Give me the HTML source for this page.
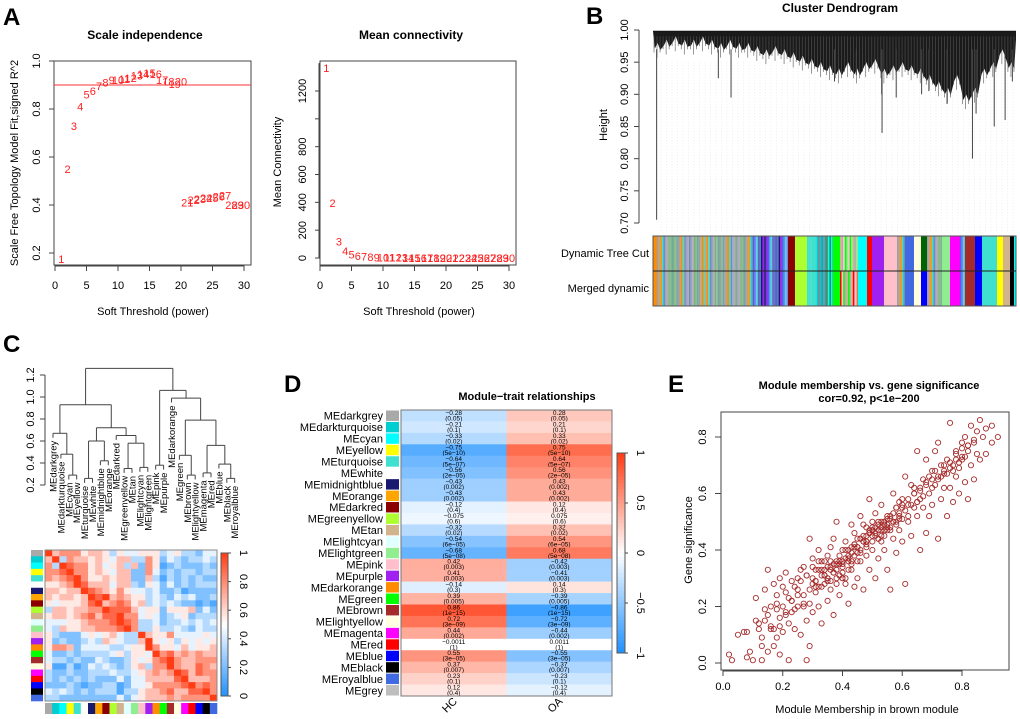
<!DOCTYPE html>
<html><head><meta charset="utf-8"><style>
html,body{margin:0;padding:0;background:#fff;}
svg{display:block;font-family:"Liberation Sans",Arial,sans-serif;}
</style></head><body>
<svg id="fig" width="1020" height="719" viewBox="0 0 1020 719"></svg>
<script>
// ---------- Panel A data ----------
const powers = [1,2,3,4,5,6,7,8,9,10,11,12,13,14,15,16,17,18,19,20,21,22,23,24,25,26,27,28,29,30];
const sftR2 = [0.175,0.55,0.73,0.81,0.86,0.875,0.895,0.91,0.92,0.92,0.925,0.93,0.94,0.945,0.95,0.945,0.92,0.915,0.905,0.915,0.41,0.42,0.425,0.43,0.43,0.435,0.44,0.40,0.40,0.40];
const meanK = [1365,395,120,50,25,15,10,7,5,4,3,2,2,1,1,1,1,0,0,0,0,0,0,0,0,0,0,0,0,0];
const r2Ticks = [0.2,0.4,0.6,0.8,1.0];
const kTicks = [0,200,400,600,800,1000,1200];
const kTickLabels = ["0","200","400","600","800","","1200"];
const powerTicks = [0,5,10,15,20,25,30];
const r2Cut = 0.9;
// ---------- Panel B data ----------
const dendroBand = [0.965,0.97,0.975,0.97,0.97,0.975,0.97,0.965,0.97,0.965,0.965,0.96,0.955,0.96,0.955,0.95,0.945,0.94,0.935,0.93,0.925,0.935,0.925,0.935,0.94,0.925,0.93,0.935,0.93,0.925,0.915,0.905,0.895,0.915,0.885,0.895,0.925,0.935,0.955,0.935];
const spikeX = [0.01,0.18,0.215,0.50,0.63,0.631,0.67,0.81,0.88,0.89,0.94,0.97,0.99,0.74,0.76,0.56];
const spikeH = [0.705,0.925,0.895,0.92,0.90,0.84,0.895,0.885,0.80,0.87,0.85,0.86,0.92,0.90,0.905,0.93];
const heightTicks = [0.70,0.75,0.80,0.85,0.90,0.95,1.00];
const colorBlocks = [
 [653,657,"#FF8C00","#FF8C00"],[657,753,"mix1","mix1"],[753,788,"mix2","mix2"],[788,795,"#8B0000","#8B0000"],
 [795,807,"#ADFF2F","#ADFF2F"],[807,833,"mix3","mix3"],[833,840,"#00FF00","#00FF00"],[840,858,"mix4","mix5"],
 [858,867,"#00FFFF","#00FFFF"],[867,872,"#FF0000","#FF0000"],[872,884,"#A020F0","#A020F0"],[884,897,"#FFC0CB","#FFC0CB"],
 [897,905,"mix1","mix1"],[905,914,"#4169E1","#4169E1"],[914,921,"#FFFFE0","#FFFFE0"],[921,927,"#006400","#0000FF"],
 [927,942,"mix1","mix1"],[942,950,"#90EE90","#90EE90"],[950,960,"#FF00FF","#FF00FF"],[960,965,"mix2","mix2"],
 [965,975,"#A52A2A","#A52A2A"],[975,982,"#0000FF","#0000FF"],[982,997,"#40E0D0","#40E0D0"],[997,1003,"#FFFF00","#FFFF00"],
 [1003,1010,"#D2B48C","#D2B48C"],[1010,1014,"#000000","#000000"],[1014,1016,"#00FFFF","#00FFFF"]];
const mixPalettes = {
 mix1:["#9AA0A6","#7CB37C","#6E8FB8","#C8A07A","#8FBF8F","#A0A0D0","#FF8C00","#6FA8A8","#B0B0B0","#40E0D0"],
 mix2:["#4169E1","#191970","#6060C0","#8080FF","#A020F0","#5A7AD0","#40E0D0"],
 mix3:["#40E0D0","#00CED1","#2E8B57","#40E0D0","#708090","#00FFFF"],
 mix4:["#D2B48C","#FFC0CB","#90EE90","#B0B0B0","#00FF00"],
 mix5:["#FF0000","#00FF00","#D2B48C","#FFC0CB","#B0B0B0"]};
// ---------- Panel C data ----------
const meNames = ["MEdarkgrey","MEdarkturquoise","MEcyan","MEyellow","MEturquoise","MEwhite","MEmidnightblue","MEorange","MEdarkred","MEgreenyellow","MEtan","MElightcyan","MElightgreen","MEpink","MEpurple","MEdarkorange","MEgreen","MEbrown","MElightyellow","MEmagenta","MEred","MEblue","MEblack","MEroyalblue"];
const meColors = ["#A9A9A9","#00CED1","#00FFFF","#FFFF00","#40E0D0","#FFFFFF","#191970","#FFA500","#8B0000","#ADFF2F","#D2B48C","#E0FFFF","#90EE90","#FFC0CB","#A020F0","#FF8C00","#00FF00","#A52A2A","#FFFFE0","#FF00FF","#FF0000","#0000FF","#000000","#4169E1"];
const mergeA = [2,1,0,4,6,103,9,11,106,8,105,102,13,17,16,19,22,21,115,114,15,112,111];
const mergeB = [3,100,101,5,7,104,10,12,107,108,109,110,14,18,113,20,23,116,117,118,119,120,121];
const mergeH = [0.29,0.48,0.67,0.26,0.42,0.60,0.35,0.36,0.58,0.65,0.72,0.93,0.38,0.29,0.47,0.31,0.26,0.39,0.56,0.79,0.99,1.06,1.26];
const eigenCorr = [
"967775665354455534533244","693766565466337524323343","739877564563627512322232","778977565466227423233233",
"767897556566226313232322","556798666466325424232333","665669876575443422312222","656656989676553432434223",
"545556896787563434322121","366566779888645525556242","566567868897745423452333","444556777898733423343434",
"436556677789733533432433","532224545643396557444454","523223436543369545354545","577624444334559755464556",
"422323333453554978676766","433232243223545789766777","511312434323563779766876","322322333433456767986877",
"323232322242446666896667","222321223312445777789787","434323233313356678668897","332222222242456667677779"];
const dendTicks = [0.2,0.4,0.6,0.8,1.0,1.2];
const corrBarTicks = [0,0.2,0.4,0.6,0.8,1];
// ---------- Panel D data ----------
const traitModules = ["MEdarkgrey","MEdarkturquoise","MEcyan","MEyellow","MEturquoise","MEwhite","MEmidnightblue","MEorange","MEdarkred","MEgreenyellow","MEtan","MElightcyan","MElightgreen","MEpink","MEpurple","MEdarkorange","MEgreen","MEbrown","MElightyellow","MEmagenta","MEred","MEblue","MEblack","MEroyalblue","MEgrey"];
const traitColors = ["#A9A9A9","#00CED1","#00FFFF","#FFFF00","#40E0D0","#FFFFFF","#191970","#FFA500","#8B0000","#ADFF2F","#D2B48C","#E0FFFF","#90EE90","#FFC0CB","#A020F0","#FF8C00","#00FF00","#A52A2A","#FFFFE0","#FF00FF","#FF0000","#0000FF","#000000","#4169E1","#BEBEBE"];
const traits = ["HC","OA"];
const corHC = [-0.28,-0.21,-0.33,-0.75,-0.64,-0.56,-0.43,-0.43,-0.12,-0.075,-0.32,-0.54,-0.68,0.42,0.41,-0.14,0.39,0.86,0.72,0.44,-0.0011,0.55,0.37,0.23,0.12];
const corOA = [0.28,0.21,0.33,0.75,0.64,0.56,0.43,0.43,0.12,0.075,0.32,0.54,0.68,-0.42,-0.41,0.14,-0.39,-0.86,-0.72,-0.44,0.0011,-0.55,-0.37,-0.23,-0.12];
const pvals = ["0.05","0.1","0.02","5e-10","5e-07","2e-05","0.002","0.002","0.4","0.6","0.02","6e-05","5e-08","0.003","0.003","0.3","0.005","1e-15","3e-09","0.002","1","3e-05","0.007","0.1","0.4"];
const traitBarTicks = [-1,-0.5,0,0.5,1];
// ---------- Panel E data ----------
const mmX = [0.02,0.03,0.05,0.07,0.08,0.08,0.09,0.10,0.11,0.11,0.12,0.13,0.13,0.14,0.14,0.14,0.15,0.15,0.16,0.17,0.17,0.18,0.18,0.19,0.19,0.19,0.20,0.20,0.21,0.21,0.22,0.22,0.23,0.23,0.24,0.24,0.25,0.25,0.26,0.26,0.27,0.27,0.28,0.28,0.29,0.29,0.29,0.30,0.30,0.30,0.31,0.31,0.32,0.32,0.33,0.33,0.34,0.34,0.35,0.35,0.36,0.36,0.37,0.37,0.38,0.38,0.39,0.39,0.40,0.40,0.41,0.41,0.42,0.42,0.43,0.43,0.44,0.44,0.45,0.45,0.46,0.46,0.47,0.47,0.48,0.48,0.49,0.49,0.50,0.50,0.51,0.51,0.52,0.52,0.53,0.53,0.54,0.54,0.55,0.55,0.56,0.56,0.57,0.57,0.58,0.58,0.59,0.59,0.60,0.60,0.61,0.61,0.62,0.62,0.63,0.63,0.64,0.64,0.65,0.65,0.66,0.66,0.67,0.67,0.68,0.68,0.69,0.69,0.70,0.70,0.71,0.71,0.72,0.72,0.73,0.73,0.74,0.74,0.75,0.75,0.76,0.76,0.77,0.77,0.78,0.78,0.79,0.79,0.80,0.80,0.81,0.81,0.82,0.82,0.83,0.83,0.84,0.84,0.85,0.85,0.86,0.86,0.87,0.88,0.88,0.90,0.90,0.92,
0.16,0.18,0.21,0.23,0.25,0.27,0.28,0.31,0.32,0.33,0.34,0.35,0.36,0.37,0.38,0.39,0.40,0.41,0.42,0.43,0.44,0.45,0.46,0.47,0.48,0.49,0.50,0.51,0.52,0.53,0.54,0.55,0.56,0.57,0.58,0.59,0.60,0.62,0.64,0.66,0.68,0.70,0.72,0.74,0.76,0.78,0.80,0.82,0.84,0.35,0.40,0.45,0.50,0.55,0.60,0.38,0.43,0.48,0.53,0.65,
0.12,0.13,0.15,0.16,0.17,0.18,0.19,0.20,0.21,0.22,0.23,0.24,0.25,0.26,0.27,0.28,0.29,0.30,0.31,0.32,0.33,0.34,0.35,0.36,0.37,0.38,0.39,0.40,0.41,0.42,0.43,0.44,0.45,0.46,0.47,0.48,0.49,0.50,0.51,0.52,0.53,0.54,0.55,0.56,0.57,0.58,0.59,0.60,0.61,0.62,0.63,0.64,0.65,0.66,0.67,0.68,0.69,0.70,0.71,0.72,0.73,0.74,0.75,0.76,0.77,0.78,0.79,0.80,0.81,0.82,
0.30,0.31,0.32,0.33,0.34,0.35,0.36,0.37,0.38,0.39,0.40,0.41,0.42,0.43,0.44,0.45,0.46,0.47,0.48,0.49,0.50,0.51,0.52,0.53,0.54,0.55,0.56,0.57,0.58,0.59,0.36,0.38,0.40,0.42,0.44,0.46,0.48,0.50,0.52,0.54];
const gsY = [0.03,0.01,0.10,0.11,0.11,0.02,0.04,0.01,0.15,0.23,0.12,0.01,0.06,0.19,0.26,0.15,0.33,0.04,0.13,0.28,0.06,0.21,0.09,0.30,0.16,0.03,0.20,0.11,0.32,0.25,0.14,0.01,0.22,0.18,0.12,0.27,0.30,0.20,0.10,0.29,0.34,0.24,0.15,0.01,0.44,0.06,0.21,0.37,0.18,0.28,0.33,0.25,0.40,0.20,0.31,0.14,0.36,0.28,0.22,0.38,0.33,0.26,0.44,0.17,0.50,0.30,0.35,0.24,0.40,0.32,0.28,0.43,0.36,0.21,0.49,0.33,0.27,0.46,0.39,0.30,0.52,0.36,0.43,0.26,0.48,0.38,0.58,0.33,0.45,0.40,0.53,0.30,0.49,0.37,0.56,0.43,0.50,0.40,0.47,0.33,0.26,0.52,0.60,0.44,0.50,0.39,0.57,0.47,0.55,0.43,0.28,0.66,0.50,0.58,0.63,0.45,0.55,0.60,0.75,0.52,0.58,0.40,0.65,0.55,0.72,0.46,0.60,0.52,0.68,0.56,0.75,0.63,0.78,0.44,0.66,0.58,0.70,0.62,0.52,0.67,0.85,0.62,0.70,0.57,0.74,0.66,0.69,0.60,0.78,0.72,0.80,0.64,0.75,0.58,0.84,0.70,0.78,0.65,0.82,0.74,0.86,0.72,0.80,0.74,0.83,0.78,0.84,0.80,
0.12,0.19,0.17,0.22,0.24,0.21,0.31,0.29,0.27,0.33,0.31,0.30,0.34,0.32,0.35,0.36,0.34,0.40,0.37,0.41,0.42,0.41,0.44,0.43,0.45,0.46,0.47,0.46,0.50,0.48,0.49,0.52,0.51,0.50,0.55,0.53,0.56,0.56,0.60,0.62,0.63,0.65,0.66,0.68,0.71,0.72,0.73,0.77,0.79,0.29,0.36,0.41,0.47,0.48,0.51,0.33,0.39,0.43,0.45,0.57,
0.14,0.09,0.17,0.20,0.12,0.24,0.13,0.27,0.18,0.23,0.29,0.19,0.26,0.33,0.20,0.31,0.26,0.34,0.29,0.36,0.27,0.33,0.30,0.41,0.35,0.28,0.38,0.30,0.37,0.40,0.35,0.42,0.44,0.40,0.49,0.42,0.47,0.50,0.45,0.44,0.50,0.47,0.51,0.48,0.53,0.55,0.51,0.58,0.54,0.52,0.56,0.62,0.57,0.61,0.59,0.64,0.66,0.62,0.68,0.65,0.70,0.67,0.72,0.69,0.68,0.75,0.71,0.76,0.73,0.77,
0.30,0.27,0.33,0.36,0.31,0.34,0.29,0.32,0.36,0.31,0.35,0.30,0.38,0.36,0.41,0.36,0.39,0.45,0.41,0.46,0.43,0.48,0.44,0.47,0.45,0.49,0.47,0.50,0.49,0.52,0.36,0.33,0.30,0.33,0.38,0.44,0.43,0.48,0.47,0.50];
const mmTicks = [0.0,0.2,0.4,0.6,0.8];
const gsTicks = [0.0,0.2,0.4,0.6,0.8];

// ---------- helpers ----------
const svg = document.getElementById('fig');
const NS = "http://www.w3.org/2000/svg";
function mk(tag, attrs, parent, text){
  const e = document.createElementNS(NS, tag);
  for (const k in attrs) e.setAttribute(k, attrs[k]);
  if (text !== undefined) e.textContent = text;
  (parent || svg).appendChild(e);
  return e;
}
function grp(name){
  const g = document.createElementNS(NS,'g');
  
  
  svg.appendChild(g);
  return g;
}
function lerp(a,b,t){return Math.round(a+(b-a)*t);}
function divColor(v){
  v=Math.max(-1,Math.min(1,v));
  if (v<0){const t=-v;return `rgb(${lerp(255,30,t)},${lerp(255,144,t)},${lerp(255,255,t)})`;}
  return `rgb(${lerp(255,255,v)},${lerp(255,60,v)},${lerp(255,20,v)})`;
}
function panelLabel(t,x,y){
  const e = mk('text',{x:x,y:y,'font-size':24,'font-weight':'bold'},svg,t);
  
  
}

// ---------- Panel A ----------
panelLabel('A',3,25);
(function(){
  const g = grp('scale-independence-plot');
  const X0=54,X1=251,Y0=61,Y1=265;
  const xs = p => 55 + p*(244-55)/30;
  const ys = v => 253 - (v-0.2)*(253-61)/0.8;
  mk('text',{x:145,y:39,'font-size':12,'font-weight':'bold','text-anchor':'middle'},g,'Scale independence');
  mk('rect',{x:X0,y:Y0,width:X1-X0,height:Y1-Y0,fill:'none',stroke:'#444','stroke-width':1},g);
  const ln = mk('line',{x1:X0,x2:X1,y1:ys(r2Cut),y2:ys(r2Cut),stroke:'#FF3030','stroke-width':1},g);
   
  r2Ticks.forEach(t=>{
    mk('line',{x1:X0-5,x2:X0,y1:ys(t),y2:ys(t),stroke:'#444'},g);
    mk('text',{x:0,y:0,'font-size':11,'text-anchor':'middle',transform:`translate(40,${ys(t)}) rotate(-90)`},g,t.toFixed(1));
  });
  mk('line',{x1:xs(0),x2:xs(30),y1:Y1+1,y2:Y1+1,stroke:'#444'},g);
  powerTicks.forEach(t=>{
    mk('line',{x1:xs(t),x2:xs(t),y1:Y1,y2:Y1+6,stroke:'#444'},g);
    mk('text',{x:xs(t),y:Y1+24,'font-size':11,'text-anchor':'middle'},g,String(t));
  });
  mk('text',{x:153,y:315,'font-size':11,'text-anchor':'middle'},g,'Soft Threshold (power)');
  mk('text',{x:0,y:0,'font-size':11,'text-anchor':'middle',transform:'translate(18,163) rotate(-90)'},g,'Scale Free Topology Model Fit,signed R^2');
  powers.forEach((p,i)=>{
    const e = mk('text',{x:xs(p),y:ys(sftR2[i])+4,'font-size':11,'text-anchor':'middle',fill:'#FF2020'},g,String(p));
     
  });
  const h = grp('mean-connectivity-plot');
  const RX0=320,RX1=516;
  const xr = p => 320 + p*(509-320)/30;
  const yk = v => 258 - v*(258-91)/1200;
  mk('text',{x:411,y:39,'font-size':12,'font-weight':'bold','text-anchor':'middle'},h,'Mean connectivity');
  mk('rect',{x:RX0,y:Y0,width:RX1-RX0,height:Y1-Y0,fill:'none',stroke:'#444'},h);
  mk('line',{x1:RX0-1,x2:RX0-1,y1:yk(0),y2:yk(1400),stroke:'#444'},h);
  kTicks.forEach((t,i)=>{
    mk('line',{x1:RX0-5,x2:RX0,y1:yk(t),y2:yk(t),stroke:'#444'},h);
    if (kTickLabels[i]) mk('text',{x:0,y:0,'font-size':11,'text-anchor':'middle',transform:`translate(306,${yk(t)}) rotate(-90)`},h,kTickLabels[i]);
  });
  powerTicks.forEach(t=>{
    mk('line',{x1:xr(t),x2:xr(t),y1:Y1,y2:Y1+6,stroke:'#444'},h);
    mk('text',{x:xr(t),y:Y1+24,'font-size':11,'text-anchor':'middle'},h,String(t));
  });
  mk('line',{x1:xr(0),x2:xr(30),y1:Y1+1,y2:Y1+1,stroke:'#444'},h);
  mk('text',{x:419,y:315,'font-size':11,'text-anchor':'middle'},h,'Soft Threshold (power)');
  mk('text',{x:0,y:0,'font-size':11,'text-anchor':'middle',transform:'translate(281,162) rotate(-90)'},h,'Mean Connectivity');
  powers.forEach((p,i)=>{
    const e = mk('text',{x:xr(p),y:yk(meanK[i])+4,'font-size':11,'text-anchor':'middle',fill:'#FF2020'},h,String(p));
     
  });
})();

// ---------- Panel B ----------
panelLabel('B',586,24);
(function(){
  const g = grp('cluster-dendrogram');
  const L=653,R=1016;
  const yh = v => 223 - (v-0.70)*(223-30)/0.30;
  mk('text',{x:840,y:12,'font-size':12,'font-weight':'bold','text-anchor':'middle'},g,'Cluster Dendrogram');
  mk('line',{x1:639,x2:639,y1:yh(0.70),y2:yh(1.0),stroke:'#444'},g);
  heightTicks.forEach(t=>{
    mk('line',{x1:634,x2:639,y1:yh(t),y2:yh(t),stroke:'#444'},g);
    mk('text',{x:0,y:0,'font-size':11,'text-anchor':'middle',transform:`translate(628,${yh(t)}) rotate(-90)`},g,t.toFixed(2));
  });
  mk('text',{x:0,y:0,'font-size':11,'text-anchor':'middle',transform:'translate(607,125) rotate(-90)'},g,'Height');
  for (let x=L+8;x<R;x+=5.5){
    mk('line',{x1:x,x2:x,y1:yh(0.95),y2:233,stroke:'#ddd','stroke-width':0.5,'stroke-dasharray':'1,2'},g);
  }
  const w=(R-L)/dendroBand.length;
  let d=`M${L},${yh(0.998)} `;
  dendroBand.forEach((v,i)=>{ d+=`L${L+i*w+w*0.2},${yh(v+0.006)} L${L+i*w+w*0.5},${yh(v+0.015)} L${L+i*w+w*0.8},${yh(v+0.004)} `; });
  d+=`L${R},${yh(0.985)} L${R},${yh(0.998)} Z`;
  const band = mk('path',{d:d,fill:'#1a1a1a'},g);
   
  for (let i=0;i<dendroBand.length;i++){
    for (let k=0;k<3;k++){
      const x=L+i*w+k*w/3+1;
      mk('line',{x1:x,x2:x,y1:yh(0.99),y2:yh(dendroBand[i]-0.008*(k%2)),stroke:'#555','stroke-width':0.6},g);
    }
  }
  spikeX.forEach((f,i)=>{
    const x=L+f*(R-L);
    const e=mk('line',{x1:x,x2:x,y1:yh(0.97),y2:yh(spikeH[i]),stroke:'#444','stroke-width':1},g);
     
  });
  mk('line',{x1:L,x2:R,y1:yh(0.998),y2:yh(0.998),stroke:'#111'},g);
  const cb = grp('module-color-bars');
  colorBlocks.forEach(b=>{
    [[b[2],236,271],[b[3],271,306]].forEach(([c,y0,y1])=>{
      if (c.startsWith('mix')){
        const pal=mixPalettes[c]; let j=0;
        for (let x=b[0];x<b[1];x+=1.6){
          mk('rect',{x:x,y:y0,width:1.7,height:y1-y0,fill:pal[(j*3+Math.floor(j/pal.length))%pal.length]},cb); j++;
        }
      } else mk('rect',{x:b[0],y:y0,width:b[1]-b[0],height:y1-y0,fill:c},cb);
    });
  });
  mk('rect',{x:L,y:236,width:R-L,height:70,fill:'none',stroke:'#555'},cb);
  mk('line',{x1:L,x2:R,y1:271,y2:271,stroke:'#222'},cb);
  mk('text',{x:649,y:257,'font-size':11,'text-anchor':'end'},cb,'Dynamic Tree Cut');
  mk('text',{x:649,y:292,'font-size':11,'text-anchor':'end'},cb,'Merged dynamic');
})();

// ---------- Panel C ----------
panelLabel('C',3,352);
(function(){
  const g = grp('eigengene-dendrogram');
  const yd = v => 485 - (v-0.2)*110;
  const lx = i => 53 + i*7.9;
  mk('line',{x1:45,x2:45,y1:yd(0.2),y2:yd(1.2),stroke:'#444'},g);
  dendTicks.forEach(t=>{
    mk('line',{x1:40,x2:45,y1:yd(t),y2:yd(t),stroke:'#444'},g);
    mk('text',{x:0,y:0,'font-size':11,'text-anchor':'middle',transform:`translate(34,${yd(t)}) rotate(-90)`},g,t.toFixed(1));
  });
  const nodeX={}, nodeH={};
  meNames.forEach((n,i)=>{nodeX[i]=lx(i);});
  mergeH.forEach((h,k)=>{
    const a=mergeA[k], b=mergeB[k];
    [a,b].forEach(c=>{
      const top=yd(h);
      let bot;
      if (c<100){ bot=yd(h-0.04);
        const t=mk('text',{x:0,y:0,'font-size':9.5,'text-anchor':'end',transform:`translate(${nodeX[c]+3.5},${bot+3}) rotate(-90)`},g,meNames[c]);
         
      } else bot=yd(nodeH[c]);
      mk('line',{x1:nodeX[c],x2:nodeX[c],y1:top,y2:bot,stroke:'#444'},g);
    });
    mk('line',{x1:nodeX[a],x2:nodeX[b],y1:yd(h),y2:yd(h),stroke:'#444'},g);
    nodeX[100+k]=(nodeX[a]+nodeX[b])/2; nodeH[100+k]=h;
  });
  const hm = grp('eigengene-adjacency-heatmap');
  const HX=45,HY=550,CW=(217-45)/24,CH=(701-550)/24;
  eigenCorr.forEach((row,r)=>{
    for (let c=0;c<24;c++){
      const v=parseInt(row[c]||'5')/9;
      const e=mk('rect',{x:HX+c*CW,y:HY+r*CH,width:CW+0.3,height:CH+0.3,fill:divColor(v*2-1)},hm);
       
    }
    mk('rect',{x:31,y:HY+r*CH,width:12,height:CH+0.3,fill:meColors[r]},hm);
    mk('rect',{x:HX+r*CW,y:703,width:CW+0.3,height:11,fill:meColors[r]},hm);
  });
  mk('rect',{x:HX,y:HY,width:172,height:151,fill:'none',stroke:'#888'},hm);
  const cbY = v => 696 - v*(696-553);
  for (let i=0;i<50;i++){
    const v0=i/50, v1=(i+1)/50;
    mk('rect',{x:221,y:cbY(v1),width:7,height:cbY(v0)-cbY(v1)+0.3,fill:divColor(((v0+v1)/2)*2-1)},hm);
  }
  mk('rect',{x:221,y:553,width:7,height:143,fill:'none',stroke:'#555'},hm);
  corrBarTicks.forEach(t=>{
    mk('line',{x1:228,x2:231,y1:cbY(t),y2:cbY(t),stroke:'#444'},hm);
    mk('text',{x:0,y:0,'font-size':11,'text-anchor':'middle',transform:`translate(240,${cbY(t)}) rotate(90)`},hm,String(t));
  });
})();

// ---------- Panel D ----------
panelLabel('D',284,392);
(function(){
  const g = grp('module-trait-heatmap');
  const X0=401,X1=612,Y0=410,Y1=696;
  const CW=(X1-X0)/2, RH=(Y1-Y0)/traitModules.length;
  mk('text',{x:527,y:400,'font-size':11,'font-weight':'bold','text-anchor':'middle'},g,'Module\u2212trait relationships');
  traitModules.forEach((m,i)=>{
    const y=Y0+i*RH;
    [corHC[i],corOA[i]].forEach((v,j)=>{
      const e=mk('rect',{x:X0+j*CW,y:y,width:CW,height:RH+0.3,fill:divColor(v)},g);
       
      const cx=X0+j*CW+CW/2;
      const s = v<0 ? '\u2212'+String(-v) : String(v);
      mk('text',{x:cx,y:y+5,'font-size':6.5,'text-anchor':'middle'},g,s);
      mk('text',{x:cx,y:y+10.5,'font-size':6.5,'text-anchor':'middle'},g,'('+pvals[i].replace('-','\u2212')+')');
    });
    mk('rect',{x:386,y:y+0.5,width:13,height:RH-1,fill:traitColors[i]},g);
    const t=mk('text',{x:383,y:y+RH/2+4,'font-size':11,'text-anchor':'end'},g,m);
     
  });
  mk('rect',{x:X0,y:Y0,width:X1-X0,height:Y1-Y0,fill:'none',stroke:'#777'},g);
  traits.forEach((t,j)=>{
    const cx=X0+j*CW+CW/2;
    mk('text',{x:0,y:0,'font-size':11,'text-anchor':'end',transform:`translate(${cx+4},${Y1+6}) rotate(-45)`},g,t);
  });
  const cbY = v => 553 - v*100;
  for (let i=0;i<60;i++){
    const v0=-1+i*2/60, v1=-1+(i+1)*2/60;
    mk('rect',{x:617,y:cbY(v1),width:8,height:cbY(v0)-cbY(v1)+0.3,fill:divColor((v0+v1)/2)},g);
  }
  mk('rect',{x:617,y:453,width:8,height:200,fill:'none',stroke:'#555'},g);
  traitBarTicks.forEach(t=>{
    mk('line',{x1:625,x2:628,y1:cbY(t),y2:cbY(t),stroke:'#444'},g);
    mk('text',{x:0,y:0,'font-size':11,'text-anchor':'middle',transform:`translate(637,${cbY(t)}) rotate(90)`},g,t<0?'\u2212'+String(-t):String(t));
  });
})();

// ---------- Panel E ----------
panelLabel('E',668,392);
(function(){
  const g = grp('membership-significance-scatter');
  const xs = v => 723 + v*(962-723)/0.8;
  const ys = v => 663 - v*(663-437)/0.8;
  mk('text',{x:869,y:389,'font-size':11,'font-weight':'bold','text-anchor':'middle'},g,'Module membership vs. gene significance');
  mk('text',{x:869,y:402,'font-size':11,'font-weight':'bold','text-anchor':'middle'},g,'cor=0.92, p<1e\u2212200');
  mk('rect',{x:721,y:412,width:288,height:258,fill:'none',stroke:'#444'},g);
  mmTicks.forEach(t=>{
    mk('line',{x1:xs(t),x2:xs(t),y1:670,y2:676,stroke:'#444'},g);
    mk('text',{x:xs(t),y:690,'font-size':11,'text-anchor':'middle'},g,t.toFixed(1));
  });
  mk('line',{x1:xs(0),x2:xs(0.8),y1:671,y2:671,stroke:'#444'},g);
  gsTicks.forEach(t=>{
    mk('line',{x1:715,x2:721,y1:ys(t),y2:ys(t),stroke:'#444'},g);
    mk('text',{x:0,y:0,'font-size':11,'text-anchor':'middle',transform:`translate(706,${ys(t)}) rotate(-90)`},g,t.toFixed(1));
  });
  mk('text',{x:867,y:713,'font-size':11,'text-anchor':'middle'},g,'Module Membership in brown module');
  mk('text',{x:0,y:0,'font-size':11,'text-anchor':'middle',transform:'translate(692,540) rotate(-90)'},g,'Gene significance');
  const n=Math.min(mmX.length,gsY.length);
  for (let i=0;i<n;i++){
    const c=mk('circle',{cx:xs(mmX[i]),cy:ys(gsY[i]),r:2.6,fill:'none',stroke:'#A52A2A','stroke-width':0.9},g);
     
  }
})();
</script>
</body></html>
